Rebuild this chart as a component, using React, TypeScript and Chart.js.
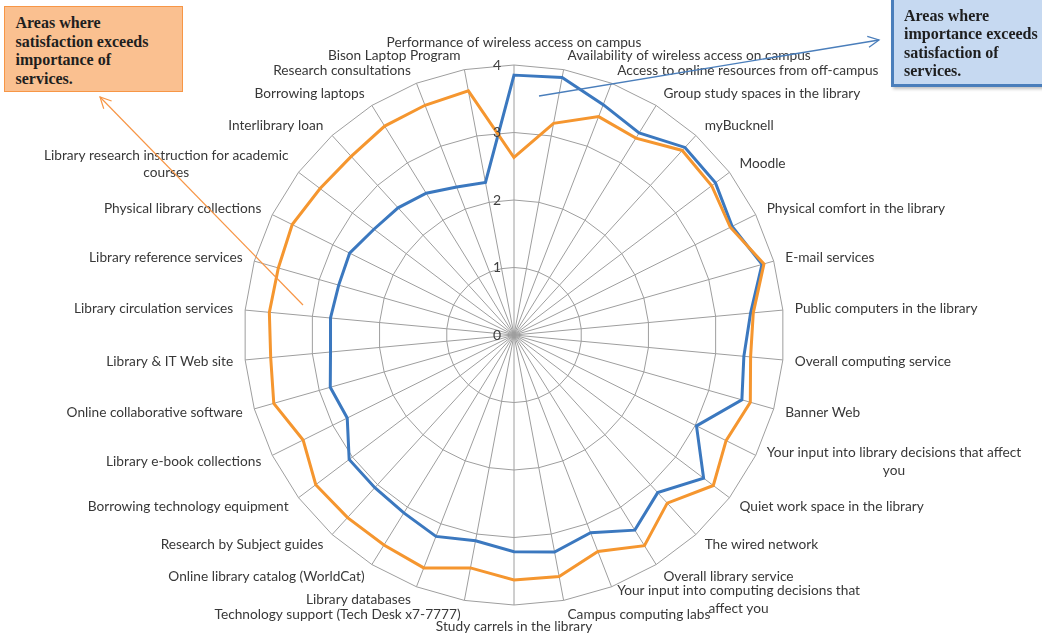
import React, { useEffect, useRef } from 'react';
import { Chart, registerables } from 'chart.js';

Chart.register(...registerables);

const CATEGORIES: (string | string[])[] = [
  'Performance of wireless access on campus',
  'Availability of wireless access on campus',
  'Access to online resources from off-campus',
  'Group study spaces in the library',
  'myBucknell',
  'Moodle',
  'Physical comfort in the library',
  'E-mail services',
  'Public computers in the library',
  'Overall computing service',
  'Banner Web',
  ['Your input into library decisions that affect', 'you'],
  'Quiet work space in the library',
  'The wired network',
  'Overall library service',
  ['Your input into computing decisions that', 'affect you'],
  'Campus computing labs',
  'Study carrels in the library',
  'Technology support (Tech Desk x7-7777)',
  'Library databases',
  'Online library catalog (WorldCat)',
  'Research by Subject guides',
  'Borrowing technology equipment',
  'Library e-book collections',
  'Online collaborative software',
  'Library & IT Web site',
  'Library circulation services',
  'Library reference services',
  'Physical library collections',
  ['Library research instruction for academic', 'courses'],
  'Interlibrary loan',
  'Borrowing laptops',
  'Research consultations',
  'Bison Laptop Program',
];

const IMPORTANCE: number[] = [
  3.85, 3.88, 3.66, 3.52, 3.76, 3.74, 3.61, 3.82, 3.52, 3.42, 3.51, 3.02,
  3.52, 3.16, 3.40, 3.14, 3.27, 3.21, 3.10, 3.20, 3.10, 3.06, 3.06, 2.76,
  2.83, 2.73, 2.73, 2.70, 2.72, 2.60, 2.55, 2.47, 2.35, 2.30,
];

const SATISFACTION: number[] = [
  2.63, 3.19, 3.47, 3.43, 3.70, 3.67, 3.58, 3.85, 3.56, 3.52, 3.64, 3.51,
  3.70, 3.37, 3.67, 3.44, 3.64, 3.63, 3.51, 3.70, 3.66, 3.66, 3.68, 3.49,
  3.70, 3.62, 3.64, 3.63, 3.67, 3.60, 3.58, 3.64, 3.65, 3.68,
];

const TICKS: number[] = [0, 1, 2, 3, 4];

const LEFT_NOTE: string[] = ['Areas where', 'satisfaction exceeds', 'importance of', 'services.'];
const RIGHT_NOTE: string[] = ['Areas where', 'importance exceeds', 'satisfaction of', 'services.'];

const LABEL_FONT = '13.7px Lato';
const TICK_FONT = '14px Lato';
const LABEL_COLOR = '#383838';
const LINE_H = 17.5;

const excelLabels = {
  id: 'excelLabels',
  afterDraw(chart: any) {
    const scale = chart.scales.r;
    const ctx = chart.ctx as CanvasRenderingContext2D;
    const R = scale.drawingArea;
    ctx.save();
    ctx.font = LABEL_FONT;
    ctx.fillStyle = LABEL_COLOR;
    ctx.textBaseline = 'middle';
    ctx.textAlign = 'center';
    (chart.data.labels as (string | string[])[]).forEach((label, i) => {
      const lines = Array.isArray(label) ? label : [label];
      const boxW = Math.max(...lines.map((l) => ctx.measureText(l).width));
      const boxH = lines.length * LINE_H;
      const ang = scale.getIndexAngle(i);
      const s = Math.sin(ang);
      let cx: number;
      let cy: number;
      if (Math.abs(s) < 1e-3) {
        const p = scale.getPointPosition(i, R + 22);
        cx = p.x;
        cy = p.y;
      } else {
        const px = scale.getPointPosition(i, R + 10);
        const py = scale.getPointPosition(i, R + 14);
        cx = s > 0 ? px.x + 2 + boxW / 2 : px.x - 2 - boxW / 2;
        cy = py.y;
      }
      lines.forEach((ln, k) => {
        ctx.fillText(ln, cx, cy - boxH / 2 + LINE_H * (k + 0.5));
      });
    });
    // radial tick labels, left of the vertical axis
    ctx.font = TICK_FONT;
    ctx.textAlign = 'right';
    ctx.fillStyle = '#404040';
    TICKS.forEach((v) => {
      const d = scale.getDistanceFromCenterForValue(v);
      ctx.fillText(String(v), scale.xCenter - 13, scale.yCenter - d);
    });
    ctx.restore();
  },
};

function arrowHead(x1: number, y1: number, x2: number, y2: number, len = 11, half = 5.5) {
  const dx = x2 - x1;
  const dy = y2 - y1;
  const L = Math.hypot(dx, dy);
  const ux = dx / L;
  const uy = dy / L;
  const bx = x2 - ux * len;
  const by = y2 - uy * len;
  return `${bx - uy * half},${by + ux * half} ${x2},${y2} ${bx + uy * half},${by - ux * half}`;
}

export default function App() {
  const ref = useRef<HTMLCanvasElement | null>(null);

  useEffect(() => {
    if (!ref.current) return;
    const chart = new Chart(ref.current, {
      type: 'radar',
      data: {
        labels: CATEGORIES,
        datasets: [
          {
            label: 'Importance',
            data: IMPORTANCE,
            borderColor: '#3b78bf',
            backgroundColor: 'transparent',
            borderWidth: 3,
            pointRadius: 0,
            pointHoverRadius: 0,
            fill: false,
            order: 1,
          },
          {
            label: 'Satisfaction',
            data: SATISFACTION,
            borderColor: '#f5962f',
            backgroundColor: 'transparent',
            borderWidth: 3,
            pointRadius: 0,
            pointHoverRadius: 0,
            fill: false,
            order: 0,
          },
        ],
      },
      options: {
        responsive: false,
        animation: false,
        layout: { padding: { left: 244, right: 258, top: 65, bottom: 31 } },
        plugins: { legend: { display: false }, tooltip: { enabled: false } },
        elements: { line: { tension: 0 } },
        scales: {
          r: {
            min: 0,
            max: 4,
            beginAtZero: true,
            ticks: { display: false, stepSize: 1 },
            pointLabels: { display: false },
            grid: { color: '#9e9e9e', lineWidth: 1, circular: false },
            angleLines: { color: '#9e9e9e', lineWidth: 1 },
          },
        },
      },
      plugins: [excelLabels],
    } as any);
    return () => chart.destroy();
  }, []);

  const noteText: React.CSSProperties = {
    fontFamily: '"Liberation Serif", "Times New Roman", serif',
    fontWeight: 'bold',
    fontSize: '16px',
    lineHeight: '18.6px',
    color: '#1e1e1e',
    whiteSpace: 'nowrap',
  };

  return (
    <div
      style={{
        position: 'absolute',
        left: 0,
        top: 0,
        width: 1042,
        height: 636,
        overflow: 'hidden',
        background: '#ffffff',
      }}
    >
      <canvas ref={ref} width={1042} height={636} style={{ position: 'absolute', left: 0, top: 0 }} />
      <div
        style={{
          ...noteText,
          position: 'absolute',
          left: 4,
          top: 6,
          width: 179,
          height: 86,
          boxSizing: 'border-box',
          border: '1.5px solid #f79646',
          background: '#fac090',
          paddingTop: 7,
          paddingLeft: 10.5,
        }}
      >
        {LEFT_NOTE.map((t) => (
          <div key={t}>{t}</div>
        ))}
      </div>
      <div
        style={{
          ...noteText,
          position: 'absolute',
          left: 891,
          top: -3,
          width: 170,
          height: 90,
          boxSizing: 'border-box',
          border: '3px solid #4a7ebb',
          background: '#c6d9f1',
          boxShadow: '2px 2px 3px rgba(0,0,0,0.25)',
          paddingTop: 6.5,
          paddingLeft: 10,
        }}
      >
        {RIGHT_NOTE.map((t) => (
          <div key={t}>{t}</div>
        ))}
      </div>
      <svg
        width={1042}
        height={636}
        style={{ position: 'absolute', left: 0, top: 0, pointerEvents: 'none' }}
      >
        <line x1={303} y1={305} x2={100} y2={97} stroke="#f79646" strokeWidth={1.2} />
        <polyline points={arrowHead(303, 305, 100, 97)} fill="none" stroke="#f79646" strokeWidth={1.2} />
        <line x1={539} y1={96} x2={879} y2={40} stroke="#4a7ebb" strokeWidth={1.3} />
        <polyline points={arrowHead(539, 96, 879, 40)} fill="none" stroke="#4a7ebb" strokeWidth={1.3} />
      </svg>
    </div>
  );
}
